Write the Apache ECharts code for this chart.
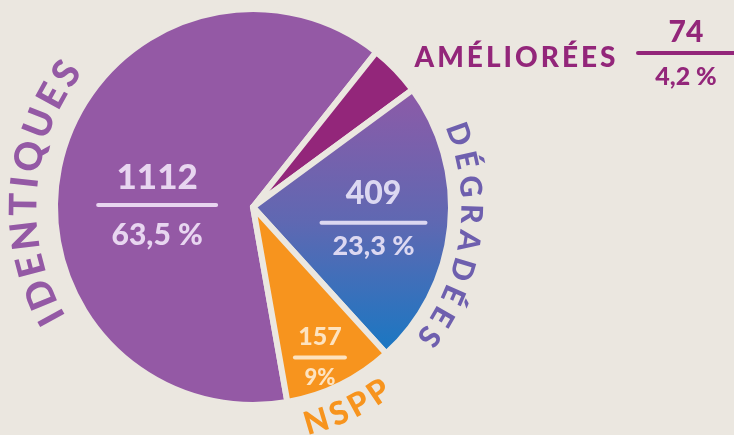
<!DOCTYPE html>
<html>
<head>
<meta charset="utf-8">
<script src="https://cdn.jsdelivr.net/npm/echarts@6/dist/echarts.min.js"></script>
<style>
html, body {margin: 0; padding: 0; background: #ebe7e0;}
#chart {width: 734px; height: 435px;}
</style>
</head>
<body>
<div id="chart"></div>
<script>
var categories = ['IDENTIQUES', 'AMÉLIORÉES', 'DÉGRADÉES', 'NSPP'];
var counts = [1112, 74, 409, 157];
var pct_labels = ['63,5 %', '4,2 %', '23,3 %', '9%'];

var bg = '#ebe7e0';
var slice_colors = ['#9459a5', '#93267a', null, '#f7941e'];
var name_colors = ['#9459a5', '#93267a', '#6e5fae', '#f7941e'];
var inner_text = ['#e8d6f0', '#93267a', '#dcd8f1', '#fde3c0'];
var font_family = 'Lato, "Open Sans", sans-serif';
var weight = '900';
var cx = 253, cy = 207, r_out = 198;

var degrade_fill = new echarts.graphic.LinearGradient(0, 0, 0, 1, [
    {offset: 0, color: '#8e5aa7'},
    {offset: 0.5, color: '#5f68b2'},
    {offset: 1, color: '#1778c3'}
]);

var measure_ctx = document.createElement('canvas').getContext('2d');
function char_width(ch, size) {
    measure_ctx.font = weight + ' ' + size + 'px ' + font_family;
    return measure_ctx.measureText(ch).width;
}
function text_el(ch, x, y, rot, size, fill) {
    return {
        type: 'text', x: x, y: y, rotation: rot, silent: true,
        style: {
            text: ch, fill: fill, font: weight + ' ' + size + 'px ' + font_family,
            align: 'center', verticalAlign: 'middle',
            textAlign: 'center', textVerticalAlign: 'middle'
        }
    };
}
// letters placed one by one around the pie, tops outward (clockwise) or inward
function arc_text(text, mid_deg, radius, size, spacing, fill, inward) {
    var chars = Array.from(text);
    var widths = chars.map(c => char_width(c, size));
    var total = widths.reduce((a, b) => a + b, 0) + spacing * (chars.length - 1);
    var mid = mid_deg * Math.PI / 180;
    var pos = 0;
    return chars.map((ch, i) => {
        var off = (pos + widths[i] / 2 - total / 2) / radius;
        pos += widths[i] + spacing;
        var theta = inward ? mid + off : mid - off;
        return text_el(ch, cx + radius * Math.cos(theta), cy - radius * Math.sin(theta),
            inward ? theta + Math.PI / 2 : theta - Math.PI / 2, size, fill);
    });
}
function spaced_text(text, x_mid, y, size, spacing, fill) {
    var chars = Array.from(text);
    var widths = chars.map(c => char_width(c, size));
    var total = widths.reduce((a, b) => a + b, 0) + spacing * (chars.length - 1);
    var pos = x_mid - total / 2;
    return chars.map((ch, i) => {
        var x = pos + widths[i] / 2;
        pos += widths[i] + spacing;
        return text_el(ch, x, y, 0, size, fill);
    });
}

function inner_label(i, sizes, hr_w, heights) {
    return {
        show: true,
        position: 'inside',
        formatter: '{v|' + counts[i] + '}\n{hr|}\n{p|' + pct_labels[i] + '}',
        rich: {
            v: {fontSize: sizes[0], fontWeight: weight, fontFamily: font_family, color: inner_text[i], lineHeight: heights[0], align: 'center'},
            hr: {width: hr_w, height: 4, lineHeight: 4, backgroundColor: inner_text[i], borderRadius: 2, align: 'center'},
            p: {fontSize: sizes[1], fontWeight: weight, fontFamily: font_family, color: inner_text[i], lineHeight: heights[1], align: 'center'}
        }
    };
}
var label_shift = [[3, 26], [0, 0], [19, 0], [22, 58]];

var pie_data = categories.map(function (name, i) {
    var item = {name: name, value: counts[i], itemStyle: {color: slice_colors[i] || degrade_fill}};
    if (i === 0) item.label = inner_label(0, [35, 30], 122, [50, 56]);
    if (i === 1) item.label = {show: false};
    if (i === 2) item.label = inner_label(2, [32, 27], 108, [54, 43]);
    if (i === 3) item.label = inner_label(3, [25, 22], 54, [38, 36]);
    return item;
});

var graphics = []
    .concat(arc_text(categories[0], 176, 229, 38, 5, name_colors[0], false))
    .concat(arc_text(categories[2], -8, 218, 30, 7, name_colors[2], false))
    .concat(arc_text(categories[3], -65, 224, 32, 3, name_colors[3], true))
    .concat(spaced_text(categories[1], 515, 58, 28, 3, name_colors[1]))
    .concat([
        text_el(String(counts[1]), 686, 32, 0, 30, name_colors[1]),
        {type: 'rect', silent: true, shape: {x: 636, y: 51, width: 110, height: 4, r: 2}, style: {fill: name_colors[1]}},
        text_el(pct_labels[1], 686, 77, 0, 25, name_colors[1])
    ]);

var chart = echarts.init(document.getElementById('chart'));
chart.setOption({
    backgroundColor: bg,
    animation: false,
    series: [{
        type: 'pie',
        center: [cx, cy],
        radius: [0, r_out],
        startAngle: 280,
        clockwise: true,
        silent: true,
        avoidLabelOverlap: false,
        itemStyle: {borderColor: bg, borderWidth: 6, borderJoin: 'round'},
        labelLine: {show: false},
        labelLayout: function (params) {
            var s = label_shift[params.dataIndex];
            return {dx: s[0], dy: s[1]};
        },
        data: pie_data
    }],
    graphic: graphics
});
</script>
</body>
</html>
